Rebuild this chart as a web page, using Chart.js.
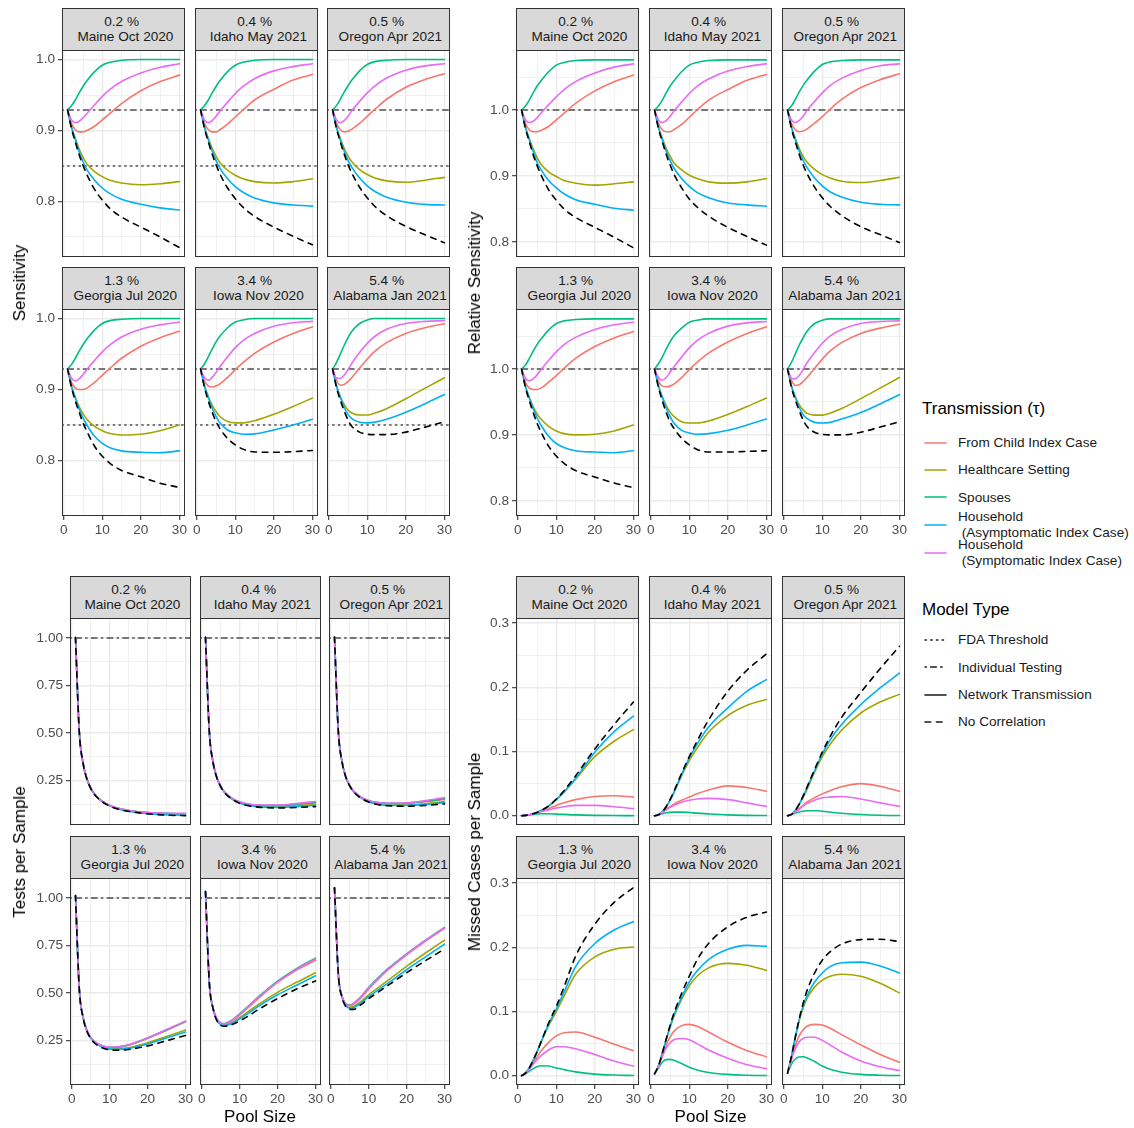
<!DOCTYPE html>
<html>
<head>
<meta charset="utf-8">
<script src="https://cdn.jsdelivr.net/npm/chart.js@4.4.1/dist/chart.umd.min.js"></script>
<style>
  body { margin: 0; background: #fff; font-family: "Liberation Sans", Arial, sans-serif; }
  #page { position: relative; width: 1134px; height: 1128px; overflow: hidden; background: #fff; }
  .strip { position: absolute; box-sizing: border-box; background: #d9d9d9; border: 1px solid #333;
           color: #1a1a1a; font-size: 13.6px; line-height: 14.6px; padding-top: 6.4px;
           text-align: center; white-space: pre; }
  canvas { position: absolute; }
  .ytitle { position: absolute; font-size: 17px; color: #000; white-space: nowrap;
            transform: translate(-50%, -50%) rotate(-90deg); }
  .xtitle { position: absolute; font-size: 17px; color: #000; white-space: nowrap;
            transform: translate(-50%, -50%); }
  .lgtitle { position: absolute; font-size: 17px; color: #000; white-space: nowrap; }
  .lgtext { position: absolute; font-size: 13.6px; line-height: 15.4px; color: #1a1a1a; white-space: pre; }
  .lgkey { position: absolute; }
</style>
</head>
<body>
<div id="page"></div>
<script>
// ---- data ----
const poolSizes = [1, 2, 3, 4, 5, 6, 8, 10, 12, 15, 20, 25, 30];
const transmissionLabels = ["From Child Index Case", "Healthcare Setting", "Spouses",
  "Household\n (Asymptomatic Index Case)", "Household\n (Symptomatic Index Case)"];
const modelTypes = ["FDA Threshold", "Individual Testing", "Network Transmission", "No Correlation"];
const panelLabels = ["0.2 % \n Maine Oct 2020", "0.4 % \n Idaho May 2021", "0.5 % \n Oregon Apr 2021",
  "1.3 % \n Georgia Jul 2020", "3.4 % \n Iowa Nov 2020", "5.4 % \n Alabama Jan 2021"];

const xTicks = [0, 10, 20, 30];
const xMinor = [5, 15, 25];
const sensTicks = [0.8, 0.9, 1.0];
const sensMinor = [0.75, 0.85, 0.95];
const relTicks = [0.8, 0.9, 1.0];
const relMinor = [0.85, 0.95, 1.05];
const testsTicks = [0.25, 0.5, 0.75, 1.0];
const testsMinor = [0.125, 0.375, 0.625, 0.875];
const missedTicks = [0.0, 0.1, 0.2, 0.3];
const missedMinor = [0.05, 0.15, 0.25];

const fdaThreshold = 0.85;
const individualSens = 0.929;
const individualRel = 1.0;
const individualTests = 1.0;

// rows: child, healthcare, spouses, household asym, household sym, no correlation
const sensMaine = [
  [0.929,0.910,0.901,0.898,0.898,0.900,0.906,0.915,0.924,0.938,0.956,0.969,0.978],
  [0.929,0.905,0.889,0.874,0.862,0.853,0.842,0.835,0.830,0.826,0.8235,0.825,0.828],
  [0.929,0.935,0.943,0.953,0.962,0.970,0.983,0.992,0.996,0.999,1.000,1.000,1.000],
  [0.929,0.905,0.887,0.870,0.856,0.845,0.830,0.819,0.811,0.803,0.796,0.791,0.788],
  [0.929,0.915,0.911,0.913,0.918,0.924,0.936,0.948,0.958,0.969,0.981,0.989,0.994],
  [0.929,0.903,0.884,0.866,0.851,0.838,0.817,0.802,0.790,0.778,0.764,0.750,0.735]];
const sensIdaho = [
  [0.929,0.910,0.901,0.898,0.898,0.901,0.909,0.919,0.929,0.943,0.958,0.971,0.979],
  [0.929,0.905,0.889,0.875,0.864,0.855,0.844,0.837,0.832,0.828,0.826,0.828,0.832],
  [0.929,0.935,0.943,0.953,0.962,0.970,0.983,0.992,0.996,0.999,1.000,1.000,1.000],
  [0.929,0.905,0.887,0.871,0.858,0.847,0.832,0.821,0.813,0.805,0.798,0.795,0.7935],
  [0.929,0.915,0.911,0.914,0.920,0.927,0.940,0.952,0.962,0.973,0.984,0.990,0.994],
  [0.929,0.903,0.884,0.867,0.852,0.839,0.819,0.804,0.792,0.779,0.764,0.751,0.739]];
const sensOregon = [
  [0.929,0.910,0.901,0.898,0.899,0.902,0.910,0.920,0.930,0.944,0.961,0.972,0.980],
  [0.929,0.905,0.889,0.875,0.864,0.856,0.845,0.838,0.833,0.829,0.827,0.830,0.834],
  [0.929,0.935,0.944,0.954,0.963,0.971,0.984,0.993,0.997,0.999,1.000,1.000,1.000],
  [0.929,0.905,0.887,0.871,0.858,0.848,0.833,0.822,0.814,0.806,0.799,0.796,0.795],
  [0.929,0.915,0.911,0.914,0.920,0.928,0.941,0.953,0.963,0.974,0.985,0.991,0.994],
  [0.929,0.903,0.884,0.867,0.852,0.840,0.820,0.805,0.793,0.780,0.765,0.753,0.742]];
const sensGeorgia = [
  [0.929,0.910,0.902,0.900,0.900,0.902,0.910,0.920,0.930,0.944,0.961,0.973,0.982],
  [0.929,0.905,0.889,0.876,0.866,0.858,0.848,0.842,0.838,0.836,0.837,0.842,0.850],
  [0.929,0.935,0.944,0.954,0.963,0.971,0.984,0.993,0.997,0.999,1.000,1.000,1.000],
  [0.929,0.905,0.888,0.873,0.860,0.850,0.834,0.824,0.818,0.8135,0.8115,0.811,0.8135],
  [0.929,0.916,0.912,0.915,0.921,0.928,0.941,0.953,0.963,0.974,0.985,0.991,0.995],
  [0.929,0.903,0.884,0.868,0.853,0.841,0.820,0.806,0.796,0.786,0.777,0.768,0.762]];
const sensIowa = [
  [0.929,0.912,0.905,0.9035,0.905,0.908,0.917,0.928,0.938,0.951,0.967,0.979,0.988],
  [0.929,0.906,0.890,0.878,0.869,0.862,0.855,0.853,0.853,0.856,0.865,0.876,0.888],
  [0.929,0.936,0.946,0.957,0.967,0.975,0.987,0.995,0.998,1.000,1.000,1.000,1.000],
  [0.929,0.905,0.889,0.874,0.862,0.853,0.843,0.839,0.837,0.8375,0.843,0.850,0.858],
  [0.929,0.917,0.913,0.917,0.924,0.932,0.946,0.959,0.969,0.979,0.989,0.994,0.996],
  [0.929,0.903,0.884,0.868,0.855,0.845,0.831,0.822,0.816,0.812,0.8115,0.8125,0.814]];
const sensAlabama = [
  [0.929,0.913,0.906,0.907,0.911,0.917,0.930,0.943,0.954,0.966,0.979,0.987,0.9925],
  [0.929,0.906,0.890,0.879,0.871,0.867,0.864,0.864,0.867,0.873,0.887,0.902,0.9165],
  [0.929,0.938,0.950,0.962,0.973,0.982,0.993,0.998,1.000,1.000,1.000,1.000,1.000],
  [0.929,0.905,0.889,0.875,0.865,0.859,0.854,0.853,0.854,0.858,0.868,0.880,0.893],
  [0.929,0.916,0.9155,0.920,0.928,0.937,0.952,0.965,0.975,0.985,0.993,0.996,0.997],
  [0.929,0.903,0.885,0.870,0.857,0.848,0.840,0.837,0.8365,0.8365,0.840,0.847,0.8545]];

const relMaine = [
  [1.000,0.980,0.970,0.967,0.967,0.969,0.975,0.985,0.995,1.010,1.029,1.043,1.053],
  [1.000,0.974,0.957,0.941,0.928,0.918,0.906,0.899,0.893,0.889,0.886,0.888,0.891],
  [1.000,1.006,1.015,1.026,1.036,1.044,1.058,1.068,1.072,1.075,1.076,1.076,1.076],
  [1.000,0.974,0.955,0.937,0.921,0.910,0.893,0.882,0.873,0.864,0.857,0.851,0.848],
  [1.000,0.985,0.981,0.983,0.988,0.995,1.008,1.020,1.031,1.043,1.056,1.065,1.070],
  [1.000,0.972,0.952,0.932,0.916,0.902,0.879,0.863,0.850,0.837,0.822,0.807,0.791]];
const relIdaho = [
  [1.000,0.980,0.970,0.967,0.967,0.970,0.978,0.989,1.000,1.015,1.031,1.045,1.054],
  [1.000,0.974,0.957,0.942,0.930,0.920,0.909,0.901,0.896,0.891,0.889,0.891,0.896],
  [1.000,1.006,1.015,1.026,1.036,1.044,1.058,1.068,1.072,1.075,1.076,1.076,1.076],
  [1.000,0.974,0.955,0.938,0.924,0.912,0.896,0.884,0.875,0.867,0.859,0.856,0.854],
  [1.000,0.985,0.981,0.984,0.990,0.998,1.012,1.025,1.036,1.047,1.059,1.066,1.070],
  [1.000,0.972,0.952,0.933,0.917,0.903,0.882,0.865,0.853,0.839,0.822,0.808,0.795]];
const relOregon = [
  [1.000,0.980,0.970,0.967,0.968,0.971,0.980,0.990,1.001,1.016,1.034,1.046,1.055],
  [1.000,0.974,0.957,0.942,0.930,0.921,0.910,0.902,0.897,0.892,0.890,0.893,0.898],
  [1.000,1.006,1.016,1.027,1.037,1.045,1.059,1.069,1.073,1.075,1.076,1.076,1.076],
  [1.000,0.974,0.955,0.938,0.924,0.913,0.897,0.885,0.876,0.868,0.860,0.857,0.856],
  [1.000,0.985,0.981,0.984,0.990,0.999,1.013,1.026,1.037,1.048,1.060,1.067,1.070],
  [1.000,0.972,0.952,0.933,0.917,0.904,0.883,0.867,0.854,0.840,0.823,0.811,0.799]];
const relGeorgia = [
  [1.000,0.980,0.971,0.969,0.969,0.971,0.980,0.990,1.001,1.016,1.034,1.047,1.057],
  [1.000,0.974,0.957,0.943,0.932,0.924,0.913,0.906,0.902,0.900,0.901,0.906,0.915],
  [1.000,1.006,1.016,1.027,1.037,1.045,1.059,1.069,1.073,1.075,1.076,1.076,1.076],
  [1.000,0.974,0.956,0.940,0.926,0.915,0.898,0.887,0.881,0.876,0.874,0.873,0.876],
  [1.000,0.986,0.982,0.985,0.991,0.999,1.013,1.026,1.037,1.048,1.060,1.067,1.071],
  [1.000,0.972,0.952,0.934,0.918,0.905,0.883,0.868,0.857,0.846,0.836,0.827,0.820]];
const relIowa = [
  [1.000,0.982,0.974,0.973,0.974,0.977,0.987,0.999,1.010,1.024,1.041,1.054,1.064],
  [1.000,0.975,0.958,0.945,0.935,0.928,0.920,0.918,0.918,0.921,0.931,0.943,0.956],
  [1.000,1.008,1.018,1.030,1.041,1.050,1.062,1.071,1.074,1.076,1.076,1.076,1.076],
  [1.000,0.974,0.957,0.941,0.928,0.918,0.907,0.903,0.901,0.902,0.907,0.915,0.924],
  [1.000,0.987,0.983,0.987,0.995,1.003,1.018,1.032,1.043,1.054,1.065,1.070,1.072],
  [1.000,0.972,0.952,0.934,0.920,0.910,0.895,0.885,0.878,0.874,0.874,0.875,0.876]];
const relAlabama = [
  [1.000,0.983,0.975,0.976,0.981,0.987,1.001,1.015,1.027,1.040,1.054,1.062,1.068],
  [1.000,0.975,0.958,0.946,0.938,0.933,0.930,0.930,0.933,0.940,0.955,0.971,0.987],
  [1.000,1.010,1.023,1.036,1.047,1.057,1.069,1.074,1.076,1.076,1.076,1.076,1.076],
  [1.000,0.974,0.957,0.942,0.931,0.925,0.919,0.918,0.919,0.924,0.934,0.947,0.961],
  [1.000,0.986,0.985,0.990,0.999,1.009,1.025,1.039,1.050,1.060,1.069,1.072,1.073],
  [1.000,0.972,0.953,0.937,0.923,0.913,0.904,0.901,0.900,0.900,0.904,0.912,0.920]];

const testsMaine = [
  [1.002,0.505,0.340,0.258,0.210,0.178,0.140,0.118,0.104,0.091,0.080,0.075,0.073],
  [1.002,0.505,0.340,0.258,0.209,0.177,0.139,0.116,0.102,0.089,0.076,0.071,0.069],
  [1.002,0.505,0.340,0.258,0.210,0.178,0.140,0.118,0.104,0.091,0.080,0.076,0.074],
  [1.002,0.505,0.340,0.258,0.209,0.177,0.139,0.116,0.101,0.088,0.075,0.069,0.067],
  [1.002,0.505,0.340,0.258,0.210,0.178,0.140,0.118,0.104,0.091,0.080,0.077,0.076],
  [1.002,0.505,0.340,0.257,0.208,0.176,0.138,0.115,0.100,0.087,0.074,0.067,0.064]];
const testsIdaho = [
  [1.004,0.508,0.345,0.265,0.219,0.189,0.155,0.136,0.125,0.118,0.117,0.123,0.132],
  [1.004,0.508,0.344,0.264,0.218,0.187,0.152,0.132,0.120,0.112,0.110,0.115,0.124],
  [1.004,0.508,0.345,0.265,0.219,0.189,0.155,0.136,0.126,0.119,0.118,0.125,0.134],
  [1.004,0.508,0.344,0.264,0.218,0.187,0.152,0.131,0.119,0.111,0.108,0.112,0.119],
  [1.004,0.508,0.345,0.265,0.219,0.189,0.155,0.137,0.127,0.120,0.120,0.128,0.139],
  [1.004,0.508,0.344,0.263,0.217,0.186,0.151,0.130,0.118,0.109,0.105,0.107,0.112]];
const testsOregon = [
  [1.005,0.510,0.347,0.268,0.223,0.194,0.161,0.143,0.133,0.127,0.128,0.138,0.150],
  [1.005,0.510,0.347,0.267,0.222,0.192,0.158,0.138,0.127,0.120,0.120,0.127,0.138],
  [1.005,0.510,0.347,0.268,0.223,0.194,0.161,0.143,0.134,0.128,0.130,0.140,0.153],
  [1.005,0.510,0.347,0.267,0.222,0.192,0.158,0.137,0.126,0.119,0.118,0.124,0.133],
  [1.005,0.510,0.347,0.268,0.223,0.194,0.161,0.144,0.135,0.130,0.132,0.144,0.160],
  [1.005,0.510,0.346,0.266,0.221,0.191,0.156,0.136,0.124,0.116,0.114,0.118,0.126]];
const testsGeorgia = [
  [1.013,0.520,0.372,0.303,0.266,0.244,0.221,0.212,0.213,0.224,0.260,0.303,0.348],
  [1.013,0.520,0.371,0.301,0.263,0.240,0.216,0.206,0.205,0.211,0.237,0.270,0.305],
  [1.013,0.520,0.372,0.303,0.266,0.244,0.222,0.214,0.215,0.226,0.262,0.305,0.350],
  [1.013,0.520,0.371,0.301,0.262,0.239,0.215,0.204,0.203,0.208,0.231,0.262,0.294],
  [1.013,0.520,0.372,0.303,0.266,0.244,0.222,0.214,0.216,0.227,0.263,0.307,0.352],
  [1.013,0.520,0.370,0.299,0.260,0.236,0.211,0.200,0.198,0.202,0.221,0.248,0.276]];
const testsIowa = [
  [1.034,0.555,0.420,0.362,0.340,0.336,0.352,0.383,0.418,0.472,0.555,0.620,0.672],
  [1.034,0.555,0.418,0.358,0.334,0.330,0.343,0.369,0.397,0.440,0.503,0.556,0.606],
  [1.034,0.555,0.420,0.363,0.342,0.339,0.357,0.390,0.425,0.480,0.562,0.628,0.683],
  [1.034,0.555,0.418,0.357,0.333,0.328,0.340,0.363,0.388,0.430,0.490,0.540,0.590],
  [1.034,0.555,0.420,0.362,0.341,0.337,0.355,0.387,0.422,0.477,0.558,0.624,0.679],
  [1.034,0.555,0.416,0.354,0.329,0.324,0.334,0.352,0.375,0.413,0.470,0.520,0.563]];
const testsAlabama = [
  [1.054,0.600,0.480,0.440,0.432,0.440,0.474,0.520,0.562,0.620,0.700,0.773,0.840],
  [1.054,0.600,0.478,0.434,0.424,0.428,0.455,0.490,0.520,0.565,0.640,0.710,0.778],
  [1.054,0.600,0.481,0.442,0.436,0.445,0.481,0.528,0.570,0.626,0.706,0.778,0.845],
  [1.054,0.600,0.477,0.432,0.420,0.422,0.447,0.480,0.508,0.550,0.622,0.690,0.757],
  [1.054,0.600,0.480,0.441,0.434,0.443,0.478,0.525,0.567,0.623,0.703,0.776,0.843],
  [1.054,0.600,0.475,0.428,0.413,0.413,0.438,0.470,0.497,0.538,0.606,0.670,0.731]];

const missedMaine = [
  [0,0.0005,0.0015,0.003,0.005,0.007,0.011,0.016,0.020,0.025,0.030,0.031,0.029],
  [0,0.0005,0.0015,0.003,0.005,0.008,0.015,0.025,0.037,0.057,0.092,0.116,0.134],
  [0,0.0005,0.0012,0.002,0.0026,0.003,0.003,0.0025,0.002,0.0012,0.0005,0.0002,0.0001],
  [0,0.0005,0.0015,0.003,0.005,0.008,0.015,0.025,0.037,0.058,0.099,0.131,0.155],
  [0,0.0005,0.0015,0.003,0.0045,0.006,0.009,0.012,0.014,0.016,0.016,0.014,0.011],
  [0,0.0005,0.0015,0.003,0.005,0.008,0.015,0.026,0.039,0.062,0.104,0.142,0.177]];
const missedIdaho = [
  [0,0.0015,0.005,0.010,0.014,0.018,0.024,0.029,0.034,0.040,0.0465,0.044,0.038],
  [0,0.0015,0.006,0.014,0.024,0.036,0.062,0.086,0.105,0.130,0.156,0.172,0.181],
  [0,0.0015,0.003,0.0045,0.0052,0.0056,0.0056,0.005,0.004,0.0028,0.0012,0.0005,0.0002],
  [0,0.0015,0.006,0.014,0.024,0.036,0.064,0.090,0.111,0.138,0.168,0.194,0.212],
  [0,0.0015,0.005,0.009,0.013,0.016,0.021,0.024,0.026,0.027,0.025,0.020,0.0145],
  [0,0.0015,0.006,0.014,0.025,0.038,0.066,0.092,0.116,0.149,0.194,0.227,0.252]];
const missedOregon = [
  [0,0.002,0.006,0.011,0.016,0.021,0.028,0.034,0.039,0.045,0.050,0.046,0.038],
  [0,0.002,0.008,0.017,0.028,0.040,0.068,0.092,0.111,0.133,0.160,0.177,0.189],
  [0,0.002,0.004,0.0058,0.007,0.0076,0.0078,0.007,0.0057,0.0038,0.0018,0.0007,0.0003],
  [0,0.002,0.008,0.018,0.030,0.043,0.070,0.096,0.118,0.142,0.173,0.199,0.222],
  [0,0.002,0.006,0.010,0.015,0.019,0.024,0.028,0.029,0.030,0.026,0.020,0.0145],
  [0,0.002,0.008,0.018,0.030,0.044,0.072,0.099,0.123,0.153,0.192,0.229,0.264]];
const missedGeorgia = [
  [0,0.004,0.011,0.020,0.029,0.038,0.052,0.062,0.067,0.068,0.060,0.049,0.039],
  [0,0.004,0.012,0.024,0.037,0.051,0.078,0.100,0.124,0.158,0.185,0.197,0.2005],
  [0,0.003,0.007,0.011,0.014,0.0155,0.015,0.012,0.0095,0.006,0.0025,0.001,0.0003],
  [0,0.004,0.012,0.024,0.037,0.052,0.080,0.104,0.130,0.170,0.206,0.227,0.240],
  [0,0.004,0.010,0.018,0.025,0.031,0.040,0.045,0.045,0.042,0.033,0.023,0.015],
  [0,0.004,0.012,0.024,0.037,0.052,0.082,0.108,0.138,0.186,0.236,0.270,0.293]];
const missedIowa = [
  [0.003,0.015,0.032,0.048,0.060,0.069,0.078,0.080,0.077,0.068,0.052,0.039,0.0295],
  [0.003,0.015,0.035,0.056,0.075,0.092,0.119,0.140,0.155,0.168,0.175,0.172,0.164],
  [0.003,0.012,0.021,0.025,0.0255,0.024,0.019,0.013,0.009,0.005,0.002,0.0007,0.0002],
  [0.003,0.015,0.035,0.056,0.076,0.094,0.122,0.146,0.163,0.181,0.197,0.203,0.2015],
  [0.003,0.014,0.030,0.043,0.051,0.056,0.058,0.056,0.050,0.040,0.027,0.017,0.011],
  [0.003,0.015,0.035,0.057,0.078,0.097,0.128,0.155,0.180,0.206,0.232,0.247,0.255]];
const missedAlabama = [
  [0.004,0.027,0.047,0.062,0.071,0.077,0.080,0.079,0.074,0.064,0.048,0.033,0.021],
  [0.004,0.030,0.059,0.085,0.105,0.120,0.138,0.149,0.155,0.158,0.155,0.144,0.129],
  [0.004,0.018,0.026,0.029,0.0295,0.028,0.022,0.015,0.010,0.0055,0.002,0.0007,0.0002],
  [0.004,0.030,0.060,0.087,0.108,0.124,0.146,0.160,0.170,0.176,0.177,0.171,0.160],
  [0.004,0.025,0.042,0.053,0.058,0.060,0.060,0.055,0.048,0.037,0.023,0.014,0.008],
  [0.004,0.030,0.060,0.088,0.112,0.132,0.160,0.180,0.193,0.205,0.212,0.2125,0.209]];

// ---- styling / layout ----
const seriesColors = ["#F8766D", "#A3A500", "#00BF7D", "#00B0F6", "#E76BF3"];
const refColor = "#4d4d4d";
const dotted = [1.4, 4.3];
const dotdash = [1.4, 4.3, 5.7, 4.3];
const dashed = [5.7, 5.7];
const X_MIN = -0.45, X_MAX = 31.45;
const PAD = { l: 50, t: 12, r: 14, b: 30 };

Chart.defaults.font.family = '"Liberation Sans", Arial, sans-serif';

const quadrants = [
  { panels: [sensMaine, sensIdaho, sensOregon, sensGeorgia, sensIowa, sensAlabama],
    major: sensTicks, minor: sensMinor, fmt: v => v.toFixed(1), yMin: 0.7218, yMax: 1.0134,
    refs: [{ v: individualSens, dash: dotdash }, { v: fdaThreshold, dash: dotted }],
    cols: [62, 195, 327], w: 123, strips: [8, 267], tops: [50, 309], h: 207,
    title: "Sensitivity", titleX: 20 },
  { panels: [relMaine, relIdaho, relOregon, relGeorgia, relIowa, relAlabama],
    major: relTicks, minor: relMinor, fmt: v => v.toFixed(1), yMin: 0.777, yMax: 1.091,
    refs: [{ v: individualRel, dash: dotdash }],
    cols: [516, 649, 782], w: 123, strips: [8, 267], tops: [50, 309], h: 207,
    title: "Relative Sensitivity", titleX: 475 },
  { panels: [testsMaine, testsIdaho, testsOregon, testsGeorgia, testsIowa, testsAlabama],
    major: testsTicks, minor: testsMinor, fmt: v => v.toFixed(2), yMin: 0.015, yMax: 1.105,
    refs: [{ v: individualTests, dash: dotdash }],
    cols: [70, 200, 329], w: 121, strips: [576, 836], tops: [618, 878], h: 207,
    title: "Tests per Sample", titleX: 20, xTitle: true },
  { panels: [missedMaine, missedIdaho, missedOregon, missedGeorgia, missedIowa, missedAlabama],
    major: missedTicks, minor: missedMinor, fmt: v => v.toFixed(1), yMin: -0.0145, yMax: 0.308,
    refs: [],
    cols: [516, 649, 782], w: 123, strips: [576, 836], tops: [618, 878], h: 207,
    title: "Missed Cases per Sample", titleX: 475, xTitle: true }
];

const page = document.getElementById("page");

const isIn = (list, v) => list.some(m => Math.abs(m - v) < 1e-6);

const panelBorder = {
  id: "panelBorder",
  afterDraw(chart) {
    const { ctx, chartArea: a } = chart;
    ctx.save();
    ctx.strokeStyle = "#333333";
    ctx.lineWidth = 1;
    ctx.strokeRect(a.left + 0.5, a.top + 0.5, a.right - a.left - 1, a.bottom - a.top - 1);
    ctx.restore();
  }
};

function curve(vals, color, dash) {
  return {
    data: poolSizes.map((x, i) => ({ x, y: vals[i] })),
    borderColor: color, borderWidth: 1.6, borderDash: dash, borderCapStyle: "round",
    pointRadius: 0, cubicInterpolationMode: "monotone", fill: false
  };
}

function makePanel(q, idx) {
  const row = Math.floor(idx / 3), col = idx % 3;
  const left = q.cols[col], top = q.tops[row];

  const strip = document.createElement("div");
  strip.className = "strip";
  strip.style.left = left + "px";
  strip.style.top = q.strips[row] + "px";
  strip.style.width = q.w + "px";
  strip.style.height = (top - q.strips[row] + 1) + "px";
  strip.textContent = panelLabels[idx];
  page.appendChild(strip);

  const cv = document.createElement("canvas");
  cv.width = PAD.l + q.w + PAD.r;
  cv.height = PAD.t + q.h + PAD.b;
  cv.style.left = (left - PAD.l) + "px";
  cv.style.top = (top - PAD.t) + "px";
  page.appendChild(cv);

  const vals = q.panels[idx];
  const datasets = [curve(vals[5], "#000000", dashed)];
  for (let s = 4; s >= 0; s--) datasets.push(curve(vals[s], seriesColors[s], []));
  q.refs.forEach(r => datasets.push({
    data: [{ x: X_MIN, y: r.v }, { x: X_MAX, y: r.v }],
    borderColor: refColor, borderWidth: 1.45, borderDash: r.dash, borderCapStyle: "round",
    pointRadius: 0, fill: false
  }));

  const showX = row === 1, showY = col === 0;
  const yAll = q.minor.concat(q.major).sort((a, b) => a - b);
  const xAll = xMinor.concat(xTicks).sort((a, b) => a - b);

  new Chart(cv, {
    type: "line",
    data: { datasets },
    plugins: [panelBorder],
    options: {
      responsive: false, animation: false, devicePixelRatio: 1,
      layout: { padding: { top: PAD.t, right: PAD.r, left: 0, bottom: 0 } },
      plugins: { legend: { display: false }, tooltip: { enabled: false } },
      scales: {
        x: {
          type: "linear", min: X_MIN, max: X_MAX, bounds: "data",
          afterBuildTicks: s => { s.ticks = xAll.map(v => ({ value: v })); },
          afterFit: s => { s.height = PAD.b; },
          border: { display: false },
          grid: {
            color: "#ebebeb",
            lineWidth: c => isIn(xTicks, c.tick ? c.tick.value : 0) ? 1.4 : 0.7,
            drawTicks: showX, tickLength: 4, tickWidth: 1.1,
            tickColor: c => (c.tick && isIn(xTicks, c.tick.value)) ? "#333333" : "rgba(0,0,0,0)"
          },
          ticks: {
            display: showX, autoSkip: false, maxRotation: 0, padding: 2,
            color: "#4d4d4d", font: { size: 13.6 },
            callback: v => isIn(xTicks, v) ? String(Math.round(v)) : ""
          }
        },
        y: {
          type: "linear", min: q.yMin, max: q.yMax, bounds: "data",
          afterBuildTicks: s => { s.ticks = yAll.map(v => ({ value: v })); },
          afterFit: s => { s.width = PAD.l; },
          border: { display: false },
          grid: {
            color: "#ebebeb",
            lineWidth: c => isIn(q.major, c.tick ? c.tick.value : 0) ? 1.4 : 0.7,
            drawTicks: showY, tickLength: 4, tickWidth: 1.1,
            tickColor: c => (c.tick && isIn(q.major, c.tick.value)) ? "#333333" : "rgba(0,0,0,0)"
          },
          ticks: {
            display: showY, autoSkip: false, padding: 3,
            color: "#4d4d4d", font: { size: 13.6 },
            callback: v => isIn(q.major, v) ? q.fmt(v) : ""
          }
        }
      }
    }
  });
}

function addDiv(cls, text, styles) {
  const d = document.createElement("div");
  d.className = cls;
  d.textContent = text;
  Object.assign(d.style, styles);
  page.appendChild(d);
  return d;
}

quadrants.forEach(q => {
  for (let i = 0; i < 6; i++) makePanel(q, i);
  const cy = (q.tops[0] + q.tops[1] + q.h) / 2;
  addDiv("ytitle", q.title, { left: q.titleX + "px", top: cy + "px" });
  if (q.xTitle) {
    const cx = (q.cols[0] + q.cols[2] + q.w) / 2;
    addDiv("xtitle", "Pool Size", { left: cx + "px", top: "1117px" });
  }
});

// ---- legends ----
function keySvg(y, color, dash) {
  const ns = "http://www.w3.org/2000/svg";
  const svg = document.createElementNS(ns, "svg");
  svg.setAttribute("width", "26");
  svg.setAttribute("height", "8");
  svg.setAttribute("class", "lgkey");
  svg.style.left = "923px";
  svg.style.top = (y - 4) + "px";
  const ln = document.createElementNS(ns, "line");
  ln.setAttribute("x1", "2"); ln.setAttribute("x2", "23");
  ln.setAttribute("y1", "4"); ln.setAttribute("y2", "4");
  ln.setAttribute("stroke", color);
  ln.setAttribute("stroke-width", "1.6");
  ln.setAttribute("stroke-linecap", "round");
  if (dash.length) ln.setAttribute("stroke-dasharray", dash.join(" "));
  svg.appendChild(ln);
  page.appendChild(svg);
}

addDiv("lgtitle", "Transmission (\u03c4)", { left: "922px", top: "399px" });
const transKeyY = [442.7, 470, 497.3, 524.5, 552.5];
transmissionLabels.forEach((t, i) => {
  keySvg(transKeyY[i], seriesColors[i], []);
  const lines = t.split("\n").length;
  addDiv("lgtext", t, { left: "958px", top: (transKeyY[i] - lines * 7.7) + "px" });
});

addDiv("lgtitle", "Model Type", { left: "922px", top: "600px" });
const modelKeyY = [640, 667.3, 694.7, 721.7];
const modelDash = [dotted, dotdash, [], dashed];
modelTypes.forEach((t, i) => {
  keySvg(modelKeyY[i], "#1a1a1a", modelDash[i]);
  addDiv("lgtext", t, { left: "958px", top: (modelKeyY[i] - 7.7) + "px" });
});
</script>
</body>
</html>
